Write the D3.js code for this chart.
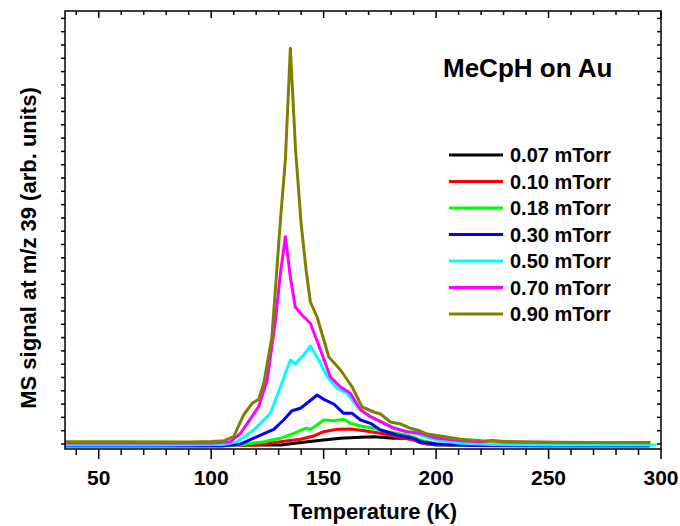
<!DOCTYPE html>
<html>
<head>
<meta charset="utf-8">
<script src="https://cdn.jsdelivr.net/npm/d3@7"></script>
<style>
  body { margin: 0; background: #fff; }
  text { font-family: "Liberation Sans", Arial, sans-serif; font-weight: bold; }
</style>
</head>
<body>
<div id="viz"></div>
<script>
const width = 680;
const height = 526;
const margin = {top: 11, right: 19, bottom: 77, left: 65};

// series labels and colours
const pressures = ['0.07 mTorr', '0.10 mTorr', '0.18 mTorr', '0.30 mTorr', '0.50 mTorr', '0.70 mTorr', '0.90 mTorr'];
const colors = ['#000000', '#ff0000', '#00ff00', '#0000ff', '#00ffff', '#ff00ff', '#808000'];

// [temperature K, signal arb.]
const p007 = [[35,4.5],[80,4],[120,4],[130.8,4],[142.7,7.3],[150,9],[157.5,10.7],[166.4,11.7],[172.3,12.3],
  [181.2,10.7],[188.6,10.7],[193,6.3],[200,4],[250,3.5],[295,3.5]];
const p010 = [[35,4],[80,4],[120,4],[130.8,7.3],[139.7,9.7],[145.6,13],[150,17.3],[156,19.7],[161.9,20],
  [167.9,18.3],[175.3,15.7],[182.7,12.3],[190,9],[196,5],[210,4],[250,3.5],[295,3.5]];
const p018 = [[35,3.5],[80,3.5],[111.5,4],[123.4,7.3],[130.8,10.7],[136.7,15.7],[141.9,20.7],[144.1,19.7],
  [147.1,24],[150,29],[154.5,28.3],[158.9,29.7],[161.9,25.7],[166.4,23],[172.3,20.7],[178.3,17.3],
  [187.1,14],[193,9],[200,5],[215,3.5],[250,3.5],[295,3.5]];
const p030 = [[35,3],[80,3],[105,3],[113,5],[120.4,12.3],[127.8,19.7],[132.2,29],[135.9,38.3],[139.7,40.7],
  [143.4,47.3],[147.1,54],[150,49.7],[154.5,45],[158.9,35.7],[162.7,35.7],[166.4,29],[170.8,25.7],
  [175.3,19],[182.7,14],[190,10.7],[193,7.3],[200,5],[215,3.5],[250,3],[295,3]];
const p050 = [[35,4],[80,4],[105,4.5],[111.5,7.3],[118.9,19],[126.3,35.7],[130.8,62.3],[135.2,89],[137.4,85],
  [141.1,94],[144.1,103],[147.8,89],[151.6,72.3],[156,60.7],[160.4,55.7],[164.9,42.3],[170.8,32.3],
  [176.8,25.7],[184.2,19],[193,14],[200,9],[210,6],[225,4.5],[250,4],[298,4]];
const p070 = [[35,6],[80,6],[100,6],[108.6,7.3],[113,15.7],[121.1,42.3],[124.9,69],[128.6,129],[130.8,176],
  [133,212.3],[135.2,172],[137.4,142],[140.4,134],[144.1,125.7],[148.6,99],[153,72],[157.5,62],
  [161.9,55.7],[166.4,39],[170.8,32.3],[175.3,27.3],[181.2,20.7],[187.1,17.3],[193,15.7],[200,11],
  [210,8.5],[220,7],[225,8.5],[230,7],[260,6.5],[295,6.5]];
const p090 = [[35,7.3],[60,7.3],[90,7],[100,7.5],[105.6,8.3],[110,12.3],[114.4,34],[118.2,45.7],[121.1,49.7],
  [123.4,65.7],[127,112],[130.8,229],[133,290],[135.2,400.7],[137.5,300],[140,225],[142.2,179],
  [144.1,147],[147.1,132],[152.3,92],[157.5,79],[162.7,62],[167.1,42],[172.3,37],[175.3,35],
  [179.7,27],[184.2,25],[188.6,20.7],[193,18],[196,15],[202,13],[210.9,9.7],[219.8,8.3],
  [234.5,7.3],[249.4,6.7],[295.3,6.3]];
const series = [p007, p010, p018, p030, p050, p070, p090];

const svg = d3.select('#viz').append('svg')
  .attr('width', width)
  .attr('height', height);

const x = d3.scaleLinear().domain([35, 300]).range([margin.left, width - margin.right]);
const y = d3.scaleLinear().domain([0, 438]).range([height - margin.bottom, margin.top]);

const x0 = margin.left, x1 = width - margin.right;
const y0 = height - margin.bottom, y1 = margin.top;

// ticks: major every 50, minor every 10
const major = d3.range(50, 301, 50);
const minor = d3.range(40, 301, 10).filter(t => t % 50 !== 0);

const axes = svg.append('g').attr('stroke', '#000').attr('stroke-width', 1.5);
axes.selectAll('.bmaj').data(major).join('line')
  .attr('x1', d => x(d)).attr('x2', d => x(d)).attr('y1', y0).attr('y2', y0 + 10);
axes.selectAll('.bmin').data(minor).join('line')
  .attr('x1', d => x(d)).attr('x2', d => x(d)).attr('y1', y0).attr('y2', y0 + 6);
axes.selectAll('.tmaj').data(major).join('line')
  .attr('x1', d => x(d)).attr('x2', d => x(d)).attr('y1', y1).attr('y2', y1 + 7);
axes.selectAll('.tmin').data(minor).join('line')
  .attr('x1', d => x(d)).attr('x2', d => x(d)).attr('y1', y1).attr('y2', y1 + 4);

// y axis has no labels, just small ticks
const yt = d3.range(5, 438, 13.3);
axes.selectAll('.lt').data(yt).join('line')
  .attr('x1', x0).attr('x2', x0 - 4).attr('y1', d => y(d)).attr('y2', d => y(d));
axes.selectAll('.rt').data(yt).join('line')
  .attr('x1', x1).attr('x2', x1 - 4).attr('y1', d => y(d)).attr('y2', d => y(d));

svg.selectAll('.xlab').data(major).join('text')
  .attr('x', d => x(d)).attr('y', y0 + 36)
  .attr('text-anchor', 'middle')
  .style('font-size', '21px')
  .text(d => d);

// curves
const line = d3.line().x(d => x(d[0])).y(d => y(d[1]));
svg.append('g').selectAll('path').data(series).join('path')
  .attr('d', line)
  .attr('fill', 'none')
  .attr('stroke', (d, i) => colors[i])
  .attr('stroke-width', 3)
  .attr('stroke-linejoin', 'round');

// frame
svg.append('rect')
  .attr('x', x0).attr('y', y1)
  .attr('width', x1 - x0).attr('height', y0 - y1)
  .attr('fill', 'none').attr('stroke', '#000').attr('stroke-width', 1.5);

// axis titles
svg.append('text')
  .attr('x', 373).attr('y', 519)
  .attr('text-anchor', 'middle')
  .style('font-size', '22px')
  .text('Temperature (K)');

svg.append('text')
  .attr('transform', 'translate(36,' + 248 + ') rotate(-90)')
  .attr('text-anchor', 'middle')
  .style('font-size', '22px')
  .text('MS signal at m/z 39 (arb. units)');

svg.append('text')
  .attr('x', 443).attr('y', 77)
  .style('font-size', '26px')
  .text('MeCpH on Au');

// legend
const leg = svg.append('g').attr('transform', 'translate(449,155)');
const legRow = leg.selectAll('g').data(pressures).join('g')
  .attr('transform', (d, i) => 'translate(0,' + (i * 26.5) + ')');
legRow.append('line')
  .attr('x1', 0).attr('x2', 54)
  .attr('stroke', (d, i) => colors[i])
  .attr('stroke-width', 3);
legRow.append('text')
  .attr('x', 61).attr('y', 7)
  .style('font-size', '20px')
  .text(d => d);
</script>
</body>
</html>
